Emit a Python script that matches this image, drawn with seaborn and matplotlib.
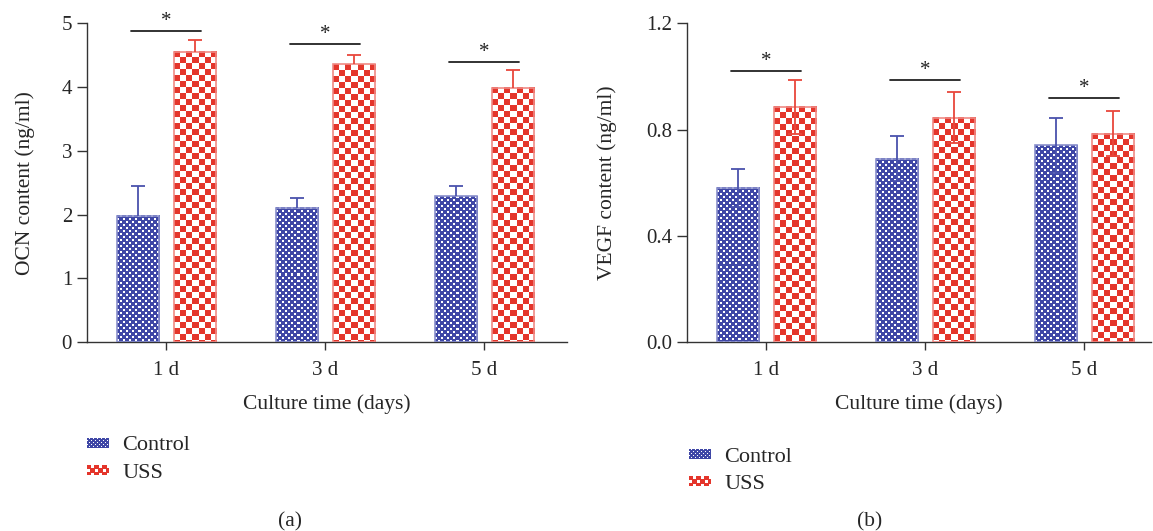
import numpy as np
import pandas as pd
import matplotlib
matplotlib.use("Agg")
import matplotlib.pyplot as plt
import matplotlib.colors as mcolors
from matplotlib.patches import Patch
import seaborn as sns

days = ['1 d', '3 d', '5 d']
groups = ['Control', 'USS']

# OCN content (ng/ml), mean and SD
ocn_control = [1.98, 2.11, 2.29]
ocn_control_sd = [0.47, 0.15, 0.16]
ocn_uss = [4.55, 4.36, 3.99]
ocn_uss_sd = [0.19, 0.15, 0.28]
ocn_sig_y = [4.88, 4.68, 4.40]

# VEGF content (ng/ml), panel (b)
vegf_control = [0.58, 0.69, 0.74]
vegf_control_sd = [0.07, 0.085, 0.105]
vegf_uss = [0.885, 0.845, 0.785]
vegf_uss_sd = [0.10, 0.095, 0.085]
vegf_sig_y = [1.02, 0.985, 0.917]

blue = '#3f47a6'
red = '#e4352b'
edge_cols = ['#8a90cc', '#f08a84']
err_cols = ['#4a52ad', '#e8473c']

sns.set_style('ticks')
plt.rcParams['font.family'] = ['Liberation Serif', 'DejaVu Serif']
fs_tick = 15
fs_lab = 15.5
fs_leg = 16


def texture(h, w, gi):
    yy, xx = np.mgrid[0:max(h, 1), 0:max(w, 1)]
    img = np.ones((yy.shape[0], yy.shape[1], 3))
    if gi == 0:
        cell = 3
        white = (((yy // cell) + (xx // cell)) % 2 == 1) & (xx % cell < 2) & (yy % cell < 2)
        img[:] = mcolors.to_rgb(blue)
        img[white] = 1.0
    else:
        cell = 6
        mask = ((yy // cell) + (xx // cell)) % 2 == 0
        img[mask] = mcolors.to_rgb(red)
    return img


def draw_panel(ax, ctrl, ctrl_sd, uss, uss_sd, sig_y, ylim, yticks, yfmt, xlim, ylabel, both_err):
    df = pd.DataFrame({'day': days * 2,
                       'group': ['Control'] * 3 + ['USS'] * 3,
                       'value': ctrl + uss})
    sns.barplot(data=df, x='day', y='value', hue='group', order=days, hue_order=groups,
                palette=[blue, red], width=0.716, gap=0.26, errorbar=None, legend=False, ax=ax)
    ax.set_xlim(*xlim)
    ax.set_ylim(*ylim)
    means = [ctrl, uss]
    sds = [ctrl_sd, uss_sd]
    for p in list(ax.patches):
        x0, w, h = p.get_x(), p.get_width(), p.get_height()
        xc = x0 + w / 2
        i = int(round(xc))
        gi = 0 if xc < i else 1
        px0, py0 = ax.transData.transform((x0, 0))
        px1, py1 = ax.transData.transform((x0 + w, h))
        img = texture(int(round(py1 - py0)), int(round(px1 - px0)), gi)
        ax.imshow(img, extent=(x0, x0 + w, 0, h), aspect='auto', interpolation='nearest', zorder=2)
        p.set_facecolor('none')
        p.set_edgecolor(edge_cols[gi])
        p.set_linewidth(1.2)
        p.set_zorder(3)
        sd = sds[gi][i]
        lo = sd if both_err else 0.0
        eb = ax.errorbar(xc, means[gi][i], yerr=[[lo], [sd]], fmt='none', ecolor=err_cols[gi],
                         elinewidth=1.3, capsize=4.7, capthick=1.3, zorder=4)
        if not both_err:
            eb[1][0].set_visible(False)
    for i, y in enumerate(sig_y):
        ax.plot([i - 0.22, i + 0.22], [y, y], color='#222222', lw=1.3, clip_on=False, zorder=5)
        ax.text(i, y, '*', ha='center', va='bottom', fontsize=fs_tick, color='#222222', clip_on=False)
    ax.set_xlim(*xlim)
    ax.set_ylim(*ylim)
    ax.set_yticks(yticks)
    ax.set_yticklabels([yfmt.format(t) for t in yticks])
    ax.set_xlabel('Culture time (days)', fontsize=fs_lab, labelpad=10)
    ax.set_ylabel(ylabel, fontsize=fs_lab)
    ax.tick_params(axis='y', length=7.5, width=1, pad=3, labelsize=fs_tick, color='#333333')
    ax.tick_params(axis='x', length=6, width=1, pad=8, labelsize=fs_tick, color='#333333')
    for s in ['top', 'right']:
        ax.spines[s].set_visible(False)
    for s in ['left', 'bottom']:
        ax.spines[s].set_linewidth(1)
        ax.spines[s].set_color('#333333')


fig = plt.figure(figsize=(11.53, 5.31), dpi=100)
ax1 = fig.add_axes([0.0752, 0.3559, 0.4165, 0.6002])
ax2 = fig.add_axes([0.5956, 0.3559, 0.4026, 0.6002])

draw_panel(ax1, ocn_control, ocn_control_sd, ocn_uss, ocn_uss_sd, ocn_sig_y,
           (0, 5), [0, 1, 2, 3, 4, 5], '{:.0f}', (-0.5, 2.52), 'OCN content (ng/ml)', False)
draw_panel(ax2, vegf_control, vegf_control_sd, vegf_uss, vegf_uss_sd, vegf_sig_y,
           (0, 1.2), [0, 0.4, 0.8, 1.2], '{:.1f}', (-0.5, 2.42), 'VEGF content (ng/ml)', True)
ax1.yaxis.set_label_coords(-0.108, 0.5)
ax2.yaxis.set_label_coords(-0.151, 0.5)

legends = []
for anchor in [(0.0755, 0.178), (0.5976, 0.157)]:
    handles = [Patch(facecolor='none', edgecolor='none', label=g) for g in groups]
    leg = fig.legend(handles=handles, loc='upper left', bbox_to_anchor=anchor, frameon=False,
                     fontsize=fs_leg, handlelength=1.0, handleheight=0.34, handletextpad=0.6,
                     labelspacing=0.38, borderpad=0, borderaxespad=0)
    legends.append(leg)

fig.text(0.2515, 0.018, '(a)', ha='center', va='center', fontsize=fs_lab)
fig.text(0.7545, 0.018, '(b)', ha='center', va='center', fontsize=fs_lab)

fig.canvas.draw()
for leg in legends:
    for gi, hp in enumerate(leg.get_patches()):
        bb = hp.get_window_extent()
        w, h = int(round(bb.width)), int(round(bb.height))
        yy, xx = np.mgrid[0:h, 0:w]
        img = np.ones((h, w, 3))
        if gi == 0:
            img[:] = mcolors.to_rgb(blue)
            img[((yy // 2 + xx // 2) % 2 == 1) & (xx % 2 == 0) & (yy % 2 == 0)] = 1.0
        else:
            img[:] = mcolors.to_rgb(red)
            img[((yy // 4 + xx // 4) % 2 == 1) & (xx % 4 < 3) & (yy % 4 < 3)] = 1.0
        fig.figimage(img, xo=int(round(bb.x0)), yo=int(round(bb.y0)), origin='upper', zorder=5)

fig.savefig('out.png', dpi=100)
